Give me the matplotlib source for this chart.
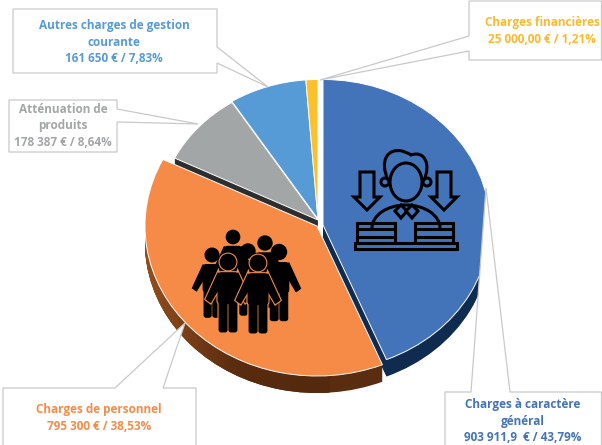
import matplotlib
matplotlib.use("Agg")
import matplotlib.pyplot as plt
import numpy as np
from matplotlib.colors import LinearSegmentedColormap
from matplotlib.path import Path
from matplotlib.patches import Polygon, Circle, Rectangle, FancyBboxPatch, Ellipse, Arc, PathPatch

W, H = 602, 445

categories = ["Charges à caractère\ngénéral", "Charges de personnel", "Atténuation de\nproduits",
              "Autres charges de gestion\ncourante", "Charges financières"]
amounts = ["903 911,9  € / 43,79%", "795 300 € / 38,53%", "178 387 € / 8,64%",
           "161 650 € / 7,83%", "25 000,00 € / 1,21%"]
shares = [43.79, 38.53, 8.64, 7.83, 1.21]

top_colors = ["#4373B9", "#F68B47", "#A3A6A7", "#569BD6", "#FDC02D"]
side_colors = ["#0F2C50", "#5A2C10", "#2E2E2E", "#1F4E79", "#7F6000"]
text_colors = ["#4373B9", "#F68B47", "#A3A6A7", "#569BD6", "#FDB92D"]

# pixel scale of the pie, and where each slice sits (pixels / relative radius)
rx, ry = 172, 150
depth = 17
slice_xy = [(323, 225), (317, 226), (318, 220), (318, 219), (318, 219)]
slice_r = [0.97, 1.0, 0.93, 0.93, 0.93]

plt.rcParams["font.family"] = ["Open Sans", "DejaVu Sans"]
fig = plt.figure(figsize=(W / 100, H / 100), dpi=100)

ax = fig.add_axes([0, 0, 1, 1])


def to_unit(x, y):
    return x / rx, -y / ry


def draw_pie(colors, offset, z, **props):
    wedges, _ = ax.pie(shares, colors=colors, startangle=90, counterclock=False,
                       wedgeprops=dict(zorder=z, **props))
    for w, (x, y), r in zip(wedges, slice_xy, slice_r):
        w.set_center(to_unit(x, y + offset))
        w.set_radius(r)
    return wedges


# brown side of the orange slice gets lighter to the left
brown = LinearSegmentedColormap.from_list("brown", ["#96501F", "#5A2C10", "#54290E"])
for d in range(depth, 0, -1):
    side = draw_pie(side_colors, d, 1)
    im = ax.imshow(np.linspace(0, 1, 64).reshape(1, -1), cmap=brown, zorder=1.5,
                   extent=(140 / rx, 330 / rx, -420 / ry, -200 / ry))
    im.set_clip_path(side[1])
draw_pie(top_colors, 0, 2, edgecolor="white", linewidth=0.7)

ax.set_aspect("auto")
ax.set_xlim(0, W / rx)
ax.set_ylim(-H / ry, 0)
ax.axis("off")

# overlay in pixel coordinates for callouts and icons
ov = fig.add_axes([0, 0, 1, 1], facecolor="none")
ov.set_xlim(0, W)
ov.set_ylim(H, 0)
ov.axis("off")


def callout(x0, y0, x1, y1, side, p0, p1, tip):
    if side == "right":
        pts = [(x0, y0), (x1, y0), (x1, p0), tip, (x1, p1), (x1, y1), (x0, y1)]
    elif side == "left":
        pts = [(x0, y0), (x1, y0), (x1, y1), (x0, y1), (x0, p1), tip, (x0, p0)]
    else:
        pts = [(x0, y0), (p0, y0), tip, (p1, y0), (x1, y0), (x1, y1), (x0, y1)]
    ov.add_patch(Polygon(pts, closed=True, fc="white", ec="#C9C9C9", lw=0.9))


callout(445, 392, 601.5, 460, "top", 471, 510, (486, 188))
callout(3, 388, 196, 460, "top", 115, 163, (185, 323))
callout(9, 100, 117, 152, "right", 109, 122, (198, 124))
callout(13, 9, 217, 73, "right", 47, 63, (268, 87))
callout(469, 1, 601.5, 60, "left", 36, 51, (320, 80))

label_pos = [(523, 421), (99, 418), (63, 126), (114, 42), (542, 31)]
for cat, amt, col, (lx, ly) in zip(categories, amounts, text_colors, label_pos):
    ov.text(lx, ly, cat + "\n" + amt, color=col, fontsize=8.5, fontweight="bold",
            ha="center", va="center", linespacing=1.32)


# people icon
def person(x, y, s, k="black", lw=0.0):
    st = dict(fc=k, ec=k, lw=lw)
    ov.add_patch(Circle((x, y), 7 * s, **st))
    ov.add_patch(FancyBboxPatch((x - 9 * s, y + 10 * s), 18 * s, 28 * s,
                                boxstyle="round,pad=0,rounding_size=3", **st))
    ov.add_patch(Polygon([(x - 9 * s, y + 10 * s), (x - 20 * s, y + 34 * s), (x - 16 * s, y + 37 * s),
                          (x - 6 * s, y + 20 * s)], **st))
    ov.add_patch(Polygon([(x + 9 * s, y + 10 * s), (x + 20 * s, y + 34 * s), (x + 16 * s, y + 37 * s),
                          (x + 6 * s, y + 20 * s)], **st))
    ov.add_patch(FancyBboxPatch((x - 8 * s, y + 36 * s), 7 * s, 28 * s,
                                boxstyle="round,pad=0,rounding_size=2", **st))
    ov.add_patch(FancyBboxPatch((x + 1 * s, y + 36 * s), 7 * s, 28 * s,
                                boxstyle="round,pad=0,rounding_size=2", **st))


for px_, py_, s_ in [(233, 237, 0.95), (265, 243, 1.0), (248, 251, 1.0), (212, 255, 0.97), (279, 252, 1.07)]:
    person(px_, py_, s_, "black", 1.0)
for px_, py_ in [(228, 262), (258, 263)]:
    person(px_, py_, 1.09, "#F68B47", 2.6)
    person(px_, py_, 1.09, "black", 1.0)

# blue slice icon, black outlines
line = dict(fc="none", ec="black", lw=2.2, joinstyle="miter")
for ax_ in (367, 444):
    ov.add_patch(Polygon([(ax_ - 7, 172), (ax_ + 7, 172), (ax_ + 7, 197), (ax_ + 13, 197), (ax_, 210),
                          (ax_ - 13, 197), (ax_ - 7, 197)], **line))
ov.add_patch(PathPatch(Path([(388, 180), (379, 160), (388, 148), (402, 151), (405, 152), (408, 153), (411, 155),
                             (425, 150), (431, 165), (424, 180)],
                            [Path.MOVETO] + [Path.CURVE4] * 9), **line))
ov.add_patch(Circle((385, 182), 4, **line))
ov.add_patch(Circle((427, 182), 4, **line))
ov.add_patch(Ellipse((406, 182), 32, 38, fc="#4373B9", ec="black", lw=2.2))
ov.add_patch(Arc((406, 228), 68, 46, theta1=180, theta2=360, ec="black", lw=2.2))
for bx in (401, 412):
    ov.add_patch(Polygon([(bx - 6, 211), (bx, 205), (bx + 6, 211), (bx, 218)], fc="#4373B9", ec="black", lw=2.2))
for sx, sw in [(357, 38), (415, 38)]:
    ov.add_patch(Rectangle((sx, 223), sw, 20, **line))
    for ly in (229, 237):
        ov.plot([sx, sx + sw], [ly, ly], color="black", lw=2.2)
ov.add_patch(Rectangle((355, 243), 102, 6, **line))
ov.set_xlim(0, W)
ov.set_ylim(H, 0)

fig.savefig("out.png", dpi=100)
